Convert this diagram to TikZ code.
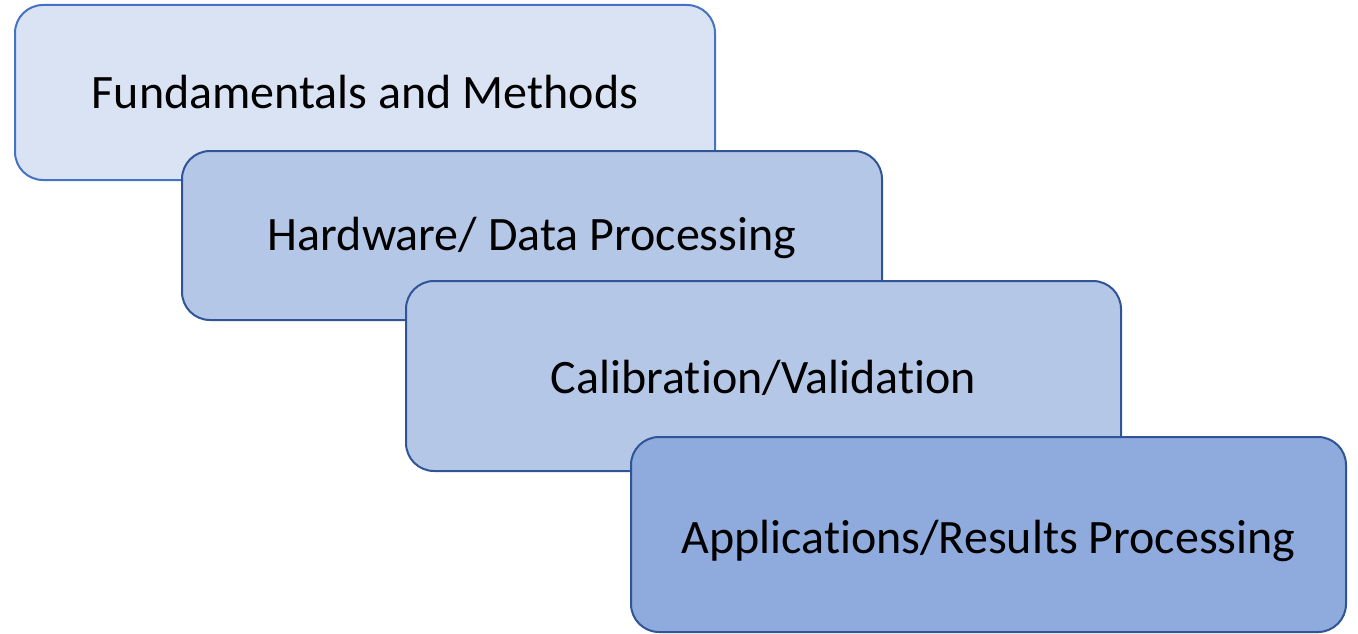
\documentclass[tikz,border=0pt]{standalone}
\usepackage{fontspec}
\setmainfont{Carlito}[Ligatures=NoCommon]
\definecolor{fillA}{HTML}{DAE3F3}
\definecolor{fillB}{HTML}{B4C7E7}
\definecolor{fillC}{HTML}{8FAADC}
\definecolor{lineA}{HTML}{4472C4}
\definecolor{lineB}{HTML}{2F5597}
\tikzset{
  stagebox/.style={rectangle, rounded corners=28pt, line width=2pt, inner sep=0pt},
  stagelabel/.style={anchor=base, inner sep=0pt, font=\fontsize{48}{56}\selectfont, text=black},
}
\begin{document}
\begin{tikzpicture}[x=1pt,y=-1pt]
\useasboundingbox (0,0) rectangle (1358,634);
\node[stagebox, draw=lineA, fill=fillA, minimum width=700pt, minimum height=175pt] (s1) at (365,92.5) {};
\node[stagelabel] (t1) at (365,108) {Fundamentals and Methods};
\node[stagebox, draw=lineB, fill=fillB, minimum width=700pt, minimum height=169pt] (s2) at (532,235.5) {};
\node[stagelabel] (t2) at (532,250) {Hardware/ Data Processing};
\node[stagebox, draw=lineB, fill=fillB, minimum width=715pt, minimum height=190pt] (s3) at (763.5,376) {};
\node[stagelabel] (t3) at (763.5,393) {Calibration/Validation};
\node[stagebox, draw=lineB, fill=fillC, minimum width=715pt, minimum height=195pt] (s4) at (988.5,534.5) {};
\node[stagelabel] (t4) at (988.5,553) {Applications/Results Processing};
\end{tikzpicture}
\end{document}
